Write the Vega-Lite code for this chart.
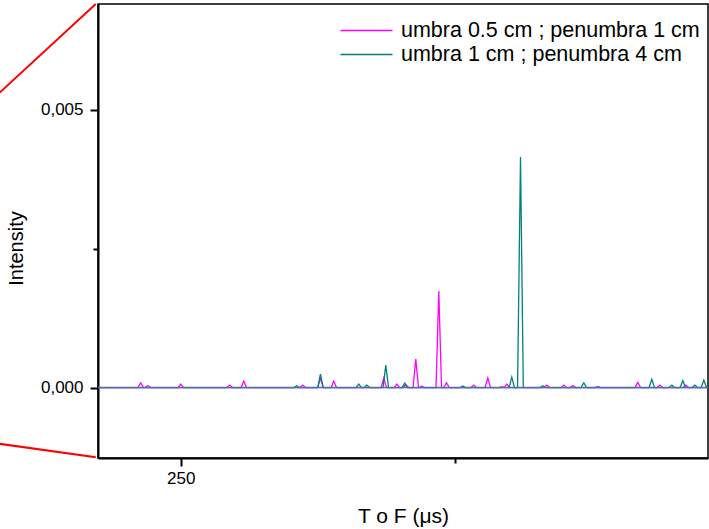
{
  "$schema": "https://vega.github.io/schema/vega-lite/v6.json",
  "width": 610,
  "height": 454,
  "autosize": {"type": "none"},
  "padding": {"left": 98, "top": 4, "right": 1, "bottom": 71},
  "background": "white",
  "config": {
    "font": "Liberation Sans",
    "view": {"stroke": "black", "strokeWidth": 1.5},
    "axis": {
      "domainColor": "black", "domainWidth": 2, "tickColor": "black", "tickWidth": 2,
      "labelColor": "black", "labelFont": "Liberation Sans", "labelFontSize": 17,
      "titleFont": "Liberation Sans", "titleFontSize": 20, "titleFontWeight": "normal", "titleColor": "black",
      "grid": false
    }
  },
  "datasets": {
    "spectra": [
      {"t": 235, "intensity": 0, "series": "umbra 0.5 cm ; penumbra 1 cm"},
      {"t": 242.2, "intensity": 0, "series": "umbra 0.5 cm ; penumbra 1 cm"},
      {"t": 242.7, "intensity": 0.000086, "series": "umbra 0.5 cm ; penumbra 1 cm"},
      {"t": 243.2, "intensity": 0, "series": "umbra 0.5 cm ; penumbra 1 cm"},
      {"t": 243.48, "intensity": 0, "series": "umbra 0.5 cm ; penumbra 1 cm"},
      {"t": 243.98, "intensity": 0.000036, "series": "umbra 0.5 cm ; penumbra 1 cm"},
      {"t": 244.48, "intensity": 0, "series": "umbra 0.5 cm ; penumbra 1 cm"},
      {"t": 249.5, "intensity": 0, "series": "umbra 0.5 cm ; penumbra 1 cm"},
      {"t": 250.0, "intensity": 0.000063, "series": "umbra 0.5 cm ; penumbra 1 cm"},
      {"t": 250.5, "intensity": 0, "series": "umbra 0.5 cm ; penumbra 1 cm"},
      {"t": 258.44, "intensity": 0, "series": "umbra 0.5 cm ; penumbra 1 cm"},
      {"t": 258.94, "intensity": 0.000045, "series": "umbra 0.5 cm ; penumbra 1 cm"},
      {"t": 259.44, "intensity": 0, "series": "umbra 0.5 cm ; penumbra 1 cm"},
      {"t": 261.0, "intensity": 0, "series": "umbra 0.5 cm ; penumbra 1 cm"},
      {"t": 261.5, "intensity": 0.000117, "series": "umbra 0.5 cm ; penumbra 1 cm"},
      {"t": 262.0, "intensity": 0, "series": "umbra 0.5 cm ; penumbra 1 cm"},
      {"t": 271.76, "intensity": 0, "series": "umbra 0.5 cm ; penumbra 1 cm"},
      {"t": 272.26, "intensity": 0.000045, "series": "umbra 0.5 cm ; penumbra 1 cm"},
      {"t": 272.76, "intensity": 0, "series": "umbra 0.5 cm ; penumbra 1 cm"},
      {"t": 274.99, "intensity": 0, "series": "umbra 0.5 cm ; penumbra 1 cm"},
      {"t": 275.49, "intensity": 0.000171, "series": "umbra 0.5 cm ; penumbra 1 cm"},
      {"t": 275.99, "intensity": 0, "series": "umbra 0.5 cm ; penumbra 1 cm"},
      {"t": 277.42, "intensity": 0, "series": "umbra 0.5 cm ; penumbra 1 cm"},
      {"t": 277.92, "intensity": 0.000117, "series": "umbra 0.5 cm ; penumbra 1 cm"},
      {"t": 278.42, "intensity": 0, "series": "umbra 0.5 cm ; penumbra 1 cm"},
      {"t": 286.54, "intensity": 0, "series": "umbra 0.5 cm ; penumbra 1 cm"},
      {"t": 287.04, "intensity": 0.000171, "series": "umbra 0.5 cm ; penumbra 1 cm"},
      {"t": 287.54, "intensity": 0, "series": "umbra 0.5 cm ; penumbra 1 cm"},
      {"t": 288.92, "intensity": 0, "series": "umbra 0.5 cm ; penumbra 1 cm"},
      {"t": 289.42, "intensity": 0.000063, "series": "umbra 0.5 cm ; penumbra 1 cm"},
      {"t": 289.92, "intensity": 0, "series": "umbra 0.5 cm ; penumbra 1 cm"},
      {"t": 290.56, "intensity": 0, "series": "umbra 0.5 cm ; penumbra 1 cm"},
      {"t": 291.06, "intensity": 0.00005, "series": "umbra 0.5 cm ; penumbra 1 cm"},
      {"t": 291.56, "intensity": 0, "series": "umbra 0.5 cm ; penumbra 1 cm"},
      {"t": 292.38, "intensity": 0, "series": "umbra 0.5 cm ; penumbra 1 cm"},
      {"t": 292.88, "intensity": 0.000513, "series": "umbra 0.5 cm ; penumbra 1 cm"},
      {"t": 293.38, "intensity": 0, "series": "umbra 0.5 cm ; penumbra 1 cm"},
      {"t": 293.6, "intensity": 0, "series": "umbra 0.5 cm ; penumbra 1 cm"},
      {"t": 293.98, "intensity": 0.000027, "series": "umbra 0.5 cm ; penumbra 1 cm"},
      {"t": 294.4, "intensity": 0, "series": "umbra 0.5 cm ; penumbra 1 cm"},
      {"t": 296.58, "intensity": 0, "series": "umbra 0.5 cm ; penumbra 1 cm"},
      {"t": 297.08, "intensity": 0.001737, "series": "umbra 0.5 cm ; penumbra 1 cm"},
      {"t": 297.58, "intensity": 0, "series": "umbra 0.5 cm ; penumbra 1 cm"},
      {"t": 297.99, "intensity": 0, "series": "umbra 0.5 cm ; penumbra 1 cm"},
      {"t": 298.49, "intensity": 0.000086, "series": "umbra 0.5 cm ; penumbra 1 cm"},
      {"t": 298.99, "intensity": 0, "series": "umbra 0.5 cm ; penumbra 1 cm"},
      {"t": 302.97, "intensity": 0, "series": "umbra 0.5 cm ; penumbra 1 cm"},
      {"t": 303.47, "intensity": 0.000045, "series": "umbra 0.5 cm ; penumbra 1 cm"},
      {"t": 303.97, "intensity": 0, "series": "umbra 0.5 cm ; penumbra 1 cm"},
      {"t": 305.52, "intensity": 0, "series": "umbra 0.5 cm ; penumbra 1 cm"},
      {"t": 306.02, "intensity": 0.000176, "series": "umbra 0.5 cm ; penumbra 1 cm"},
      {"t": 306.52, "intensity": 0, "series": "umbra 0.5 cm ; penumbra 1 cm"},
      {"t": 308.08, "intensity": 0, "series": "umbra 0.5 cm ; penumbra 1 cm"},
      {"t": 308.58, "intensity": 0.000018, "series": "umbra 0.5 cm ; penumbra 1 cm"},
      {"t": 309.0, "intensity": 0.000005, "series": "umbra 0.5 cm ; penumbra 1 cm"},
      {"t": 309.49, "intensity": 0.000063, "series": "umbra 0.5 cm ; penumbra 1 cm"},
      {"t": 309.99, "intensity": 0, "series": "umbra 0.5 cm ; penumbra 1 cm"},
      {"t": 316.29, "intensity": 0, "series": "umbra 0.5 cm ; penumbra 1 cm"},
      {"t": 316.79, "intensity": 0.000045, "series": "umbra 0.5 cm ; penumbra 1 cm"},
      {"t": 317.29, "intensity": 0, "series": "umbra 0.5 cm ; penumbra 1 cm"},
      {"t": 319.39, "intensity": 0, "series": "umbra 0.5 cm ; penumbra 1 cm"},
      {"t": 319.89, "intensity": 0.000045, "series": "umbra 0.5 cm ; penumbra 1 cm"},
      {"t": 320.39, "intensity": 0, "series": "umbra 0.5 cm ; penumbra 1 cm"},
      {"t": 321.03, "intensity": 0, "series": "umbra 0.5 cm ; penumbra 1 cm"},
      {"t": 321.53, "intensity": 0.000036, "series": "umbra 0.5 cm ; penumbra 1 cm"},
      {"t": 322.03, "intensity": 0, "series": "umbra 0.5 cm ; penumbra 1 cm"},
      {"t": 325.59, "intensity": 0, "series": "umbra 0.5 cm ; penumbra 1 cm"},
      {"t": 326.09, "intensity": 0.00002, "series": "umbra 0.5 cm ; penumbra 1 cm"},
      {"t": 326.59, "intensity": 0, "series": "umbra 0.5 cm ; penumbra 1 cm"},
      {"t": 332.89, "intensity": 0, "series": "umbra 0.5 cm ; penumbra 1 cm"},
      {"t": 333.39, "intensity": 0.000094, "series": "umbra 0.5 cm ; penumbra 1 cm"},
      {"t": 333.89, "intensity": 0, "series": "umbra 0.5 cm ; penumbra 1 cm"},
      {"t": 336.91, "intensity": 0, "series": "umbra 0.5 cm ; penumbra 1 cm"},
      {"t": 337.41, "intensity": 0.000045, "series": "umbra 0.5 cm ; penumbra 1 cm"},
      {"t": 337.91, "intensity": 0, "series": "umbra 0.5 cm ; penumbra 1 cm"},
      {"t": 341.65, "intensity": 0, "series": "umbra 0.5 cm ; penumbra 1 cm"},
      {"t": 342.15, "intensity": 0.000045, "series": "umbra 0.5 cm ; penumbra 1 cm"},
      {"t": 342.65, "intensity": 0, "series": "umbra 0.5 cm ; penumbra 1 cm"},
      {"t": 346.2, "intensity": 0, "series": "umbra 0.5 cm ; penumbra 1 cm"},
      {"t": 235, "intensity": 0, "series": "umbra 1 cm ; penumbra 4 cm"},
      {"t": 270.67, "intensity": 0, "series": "umbra 1 cm ; penumbra 4 cm"},
      {"t": 271.17, "intensity": 0.000032, "series": "umbra 1 cm ; penumbra 4 cm"},
      {"t": 271.67, "intensity": 0, "series": "umbra 1 cm ; penumbra 4 cm"},
      {"t": 274.99, "intensity": 0, "series": "umbra 1 cm ; penumbra 4 cm"},
      {"t": 275.49, "intensity": 0.000243, "series": "umbra 1 cm ; penumbra 4 cm"},
      {"t": 275.99, "intensity": 0, "series": "umbra 1 cm ; penumbra 4 cm"},
      {"t": 281.98, "intensity": 0, "series": "umbra 1 cm ; penumbra 4 cm"},
      {"t": 282.48, "intensity": 0.000063, "series": "umbra 1 cm ; penumbra 4 cm"},
      {"t": 282.98, "intensity": 0, "series": "umbra 1 cm ; penumbra 4 cm"},
      {"t": 283.44, "intensity": 0, "series": "umbra 1 cm ; penumbra 4 cm"},
      {"t": 283.94, "intensity": 0.000045, "series": "umbra 1 cm ; penumbra 4 cm"},
      {"t": 284.44, "intensity": 0, "series": "umbra 1 cm ; penumbra 4 cm"},
      {"t": 286.91, "intensity": 0, "series": "umbra 1 cm ; penumbra 4 cm"},
      {"t": 287.41, "intensity": 0.000405, "series": "umbra 1 cm ; penumbra 4 cm"},
      {"t": 287.91, "intensity": 0, "series": "umbra 1 cm ; penumbra 4 cm"},
      {"t": 290.38, "intensity": 0, "series": "umbra 1 cm ; penumbra 4 cm"},
      {"t": 290.88, "intensity": 0.000081, "series": "umbra 1 cm ; penumbra 4 cm"},
      {"t": 291.38, "intensity": 0, "series": "umbra 1 cm ; penumbra 4 cm"},
      {"t": 300.96, "intensity": 0, "series": "umbra 1 cm ; penumbra 4 cm"},
      {"t": 301.46, "intensity": 0.000027, "series": "umbra 1 cm ; penumbra 4 cm"},
      {"t": 301.96, "intensity": 0, "series": "umbra 1 cm ; penumbra 4 cm"},
      {"t": 309.9, "intensity": 0, "series": "umbra 1 cm ; penumbra 4 cm"},
      {"t": 310.4, "intensity": 0.000189, "series": "umbra 1 cm ; penumbra 4 cm"},
      {"t": 310.9, "intensity": 0, "series": "umbra 1 cm ; penumbra 4 cm"},
      {"t": 311.45, "intensity": 0, "series": "umbra 1 cm ; penumbra 4 cm"},
      {"t": 311.99, "intensity": 0.004149, "series": "umbra 1 cm ; penumbra 4 cm"},
      {"t": 312.5, "intensity": 0, "series": "umbra 1 cm ; penumbra 4 cm"},
      {"t": 315.56, "intensity": 0, "series": "umbra 1 cm ; penumbra 4 cm"},
      {"t": 316.06, "intensity": 0.000032, "series": "umbra 1 cm ; penumbra 4 cm"},
      {"t": 316.56, "intensity": 0, "series": "umbra 1 cm ; penumbra 4 cm"},
      {"t": 323.04, "intensity": 0, "series": "umbra 1 cm ; penumbra 4 cm"},
      {"t": 323.54, "intensity": 0.000086, "series": "umbra 1 cm ; penumbra 4 cm"},
      {"t": 324.04, "intensity": 0, "series": "umbra 1 cm ; penumbra 4 cm"},
      {"t": 335.45, "intensity": 0, "series": "umbra 1 cm ; penumbra 4 cm"},
      {"t": 335.95, "intensity": 0.000148, "series": "umbra 1 cm ; penumbra 4 cm"},
      {"t": 336.45, "intensity": 0, "series": "umbra 1 cm ; penumbra 4 cm"},
      {"t": 339.1, "intensity": 0, "series": "umbra 1 cm ; penumbra 4 cm"},
      {"t": 339.6, "intensity": 0.000045, "series": "umbra 1 cm ; penumbra 4 cm"},
      {"t": 340.1, "intensity": 0, "series": "umbra 1 cm ; penumbra 4 cm"},
      {"t": 341.11, "intensity": 0, "series": "umbra 1 cm ; penumbra 4 cm"},
      {"t": 341.61, "intensity": 0.000122, "series": "umbra 1 cm ; penumbra 4 cm"},
      {"t": 342.11, "intensity": 0, "series": "umbra 1 cm ; penumbra 4 cm"},
      {"t": 343.3, "intensity": 0, "series": "umbra 1 cm ; penumbra 4 cm"},
      {"t": 343.8, "intensity": 0.000045, "series": "umbra 1 cm ; penumbra 4 cm"},
      {"t": 344.3, "intensity": 0, "series": "umbra 1 cm ; penumbra 4 cm"},
      {"t": 344.94, "intensity": 0, "series": "umbra 1 cm ; penumbra 4 cm"},
      {"t": 345.44, "intensity": 0.000135, "series": "umbra 1 cm ; penumbra 4 cm"},
      {"t": 345.94, "intensity": 0, "series": "umbra 1 cm ; penumbra 4 cm"},
      {"t": 346.2, "intensity": 0, "series": "umbra 1 cm ; penumbra 4 cm"}
    ],
    "zoomlines": [
      {"t": 216.97, "intensity": 0.005311, "t2": 234.49, "intensity2": 0.006906},
      {"t": 216.97, "intensity": -0.001013, "t2": 234.49, "intensity2": -0.001254}
    ]
  },
  "layer": [
    {
      "data": {"name": "spectra"},
      "mark": {"type": "line", "clip": true, "strokeWidth": 1.3},
      "encoding": {
        "x": {
          "field": "t", "type": "quantitative",
          "scale": {"domain": [234.9, 346.2], "nice": false, "zero": false},
          "axis": {
            "title": "T o F (μs)",
            "titleFontSize": 21,
            "values": [250, 300],
            "labelExpr": "datum.value == 300 ? '' : format(datum.value, 'd')",
            "tickSize": {"condition": {"test": "datum.value == 300", "value": 5}, "value": 8},
            "labelPadding": 4,
            "titlePadding": 19
          }
        },
        "y": {
          "field": "intensity", "type": "quantitative",
          "scale": {"domain": [-0.001268, 0.006906], "nice": false, "zero": false},
          "axis": {
            "title": "Intensity",
            "values": [0, 0.0025, 0.005],
            "labelExpr": "datum.value == 0.0025 ? '' : replace(format(datum.value, '.3f'), '.', ',')",
            "tickSize": {"condition": {"test": "datum.value == 0.0025", "value": 5}, "value": 8},
            "labelPadding": 7,
            "titleX": -76,
            "titleY": 244,
            "titleAlign": "center",
            "titleBaseline": "alphabetic"
          }
        },
        "color": {
          "field": "series", "type": "nominal",
          "scale": {"domain": ["umbra 0.5 cm ; penumbra 1 cm", "umbra 1 cm ; penumbra 4 cm"], "range": ["#ff00ff", "#008080"]},
          "legend": {
            "title": null,
            "orient": "none",
            "legendX": 257,
            "legendY": 15,
            "padding": 0,
            "symbolType": "M-2.5,0H2.5",
            "symbolSize": 433,
            "symbolStrokeWidth": 1.3,
            "labelFont": "Liberation Sans",
            "labelFontSize": 21.5,
            "labelColor": "black",
            "labelOffset": 23,
            "rowPadding": 2,
            "labelLimit": 400
          }
        }
      }
    },
    {
      "data": {"values": [{"level": 0}]},
      "mark": {"type": "rule", "color": "#4a72b0", "strokeWidth": 1.4},
      "encoding": {"y": {"field": "level", "type": "quantitative"}}
    },
    {
      "data": {"name": "zoomlines"},
      "mark": {"type": "rule", "color": "#ff0000", "strokeWidth": 2, "clip": false},
      "encoding": {
        "x": {"field": "t", "type": "quantitative"},
        "x2": {"field": "t2"},
        "y": {"field": "intensity", "type": "quantitative"},
        "y2": {"field": "intensity2"}
      }
    }
  ]
}
